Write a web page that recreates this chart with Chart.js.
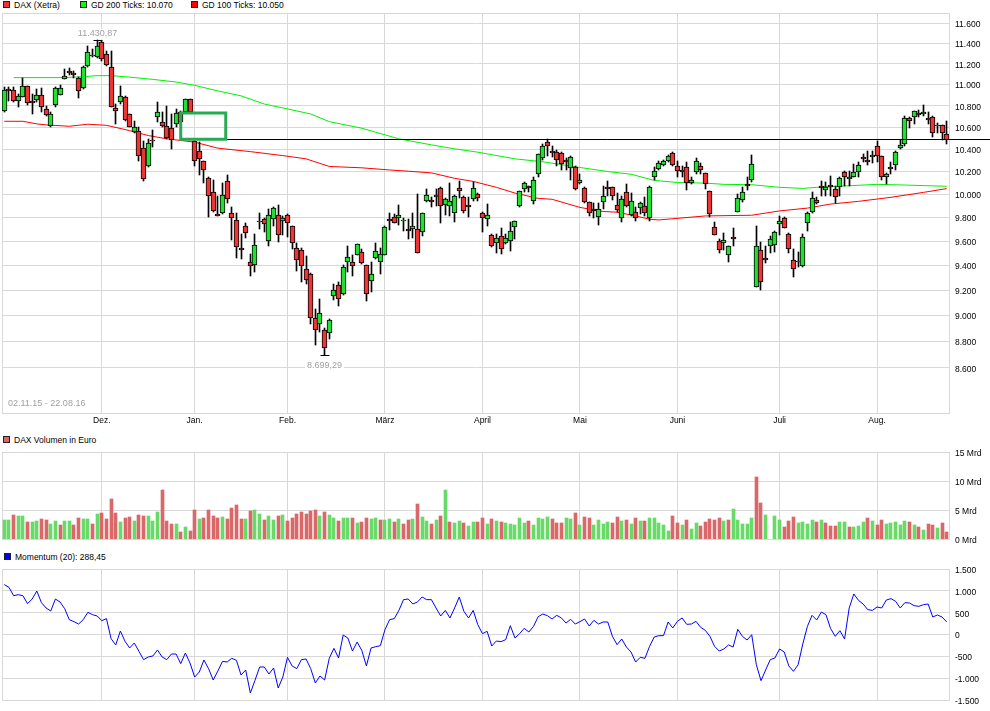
<!DOCTYPE html>
<html>
<head>
<meta charset="utf-8">
<title>DAX (Xetra)</title>
<script src="https://cdn.jsdelivr.net/npm/chart.js@4/dist/chart.umd.min.js"></script>
<style>
  html, body { margin: 0; padding: 0; background: #fff; }
  body { position: relative; width: 990px; height: 711px; overflow: hidden; font: 8.5px "Liberation Sans", Arial, sans-serif; color: #000; }
  canvas { position: absolute; left: 0; }
  #main { top: 0; }
  #volume { top: 440px; }
  #momentum { top: 557px; }
  .legend { position: absolute; white-space: nowrap; line-height: 10px; }
  .legend i { position: absolute; left: -11px; top: 1px; width: 5px; height: 5px; border: 1px solid #222; }
</style>
</head>
<body>
<div class="legend" style="left:14px;top:0"><i style="background:#ee3333"></i>DAX (Xetra)</div>
<div class="legend" style="left:91px;top:0"><i style="background:#00ff00"></i>GD 200 Ticks: 10.070</div>
<div class="legend" style="left:202px;top:0"><i style="background:#ff0000"></i>GD 100 Ticks: 10.050</div>
<div class="legend" style="left:14px;top:435px"><i style="background:#d96767"></i>DAX Volumen in Euro</div>
<div class="legend" style="left:15px;top:552px"><i style="background:#0000ff"></i>Momentum (20): 288,45</div>
<canvas id="main" width="990" height="432"></canvas>
<canvas id="volume" width="990" height="111"></canvas>
<canvas id="momentum" width="990" height="155"></canvas>
<script>
var monthIndex = [21, 41, 61, 82, 103, 124, 145, 167, 188];
var monthNames = ['Dez.', 'Jan.', 'Feb.', 'März', 'April', 'Mai', 'Juni', 'Juli', 'Aug.'];

var opens = [10754,10958,10950,10847,10878,10987,10847,10853,10897,10766,10609,10806,10903,11053,11128,11109,11067,10963,11181,11289,
  11266,11417,11301,11171,10776,10832,10878,10720,10555,10569,10409,10245,10486,10692,10646,10609,10596,10631,10738,10738,
  10862,10478,10382,10290,10145,10017,9831,9835,10113,9843,9780,9547,9725,9431,9402,9775,9788,9600,9785,9823,
  9775,9823,9725,9541,9526,9376,9331,8982,8938,8889,8862,9158,9242,9169,9431,9426,9484,9511,9402,9272,
  9459,9426,9484,9788,9809,9800,9767,9705,9700,9700,9675,9944,9952,9974,10052,9910,9896,9835,10052,9974,
  9904,9957,10000,9835,9792,9650,9584,9647,9584,9600,9717,9901,10043,10070,9939,10174,10318,10464,10386,10378,
  10364,10301,10227,10236,10095,10052,9930,9871,9809,9930,10066,10061,9904,9800,10017,9820,9849,9878,9896,9797,
  10148,10221,10260,10293,10364,10245,10213,10236,10098,10197,10245,10183,10026,9719,9600,9588,9484,9638,9849,9948,
  10089,10122,9230,9526,9463,9561,9567,9742,9800,9658,9448,9440,9393,9750,9849,9948,10074,10035,10080,10043,
  10061,10197,10130,10156,10200,10332,10305,10327,10427,10336,10156,10241,10257,10409,10445,10683,10692,10734,10720,10683,
  10698,10623,10618,10536];
var highs = [10981,10981,10981,10909,11060,10987,10909,10956,10963,10800,10738,10981,10993,11152,11162,11130,11076,11177,11373,11341,
  11431,11425,11327,11327,10816,10987,10894,10723,10660,10600,10478,10496,10575,10832,10738,10795,10723,10769,10754,10862,
  10862,10478,10464,10290,10148,10124,9988,10098,10168,9887,9835,9661,9758,9497,9661,9843,9800,9872,9887,9907,
  9814,9829,9730,9586,9542,9477,9337,9049,9131,8900,8972,9253,9267,9404,9564,9483,9578,9536,9407,9426,
  9586,9542,9730,9843,9829,9907,9800,9786,9837,10003,9843,10046,9974,10046,10061,9965,10098,9994,10116,9983,
  9974,10110,10011,9849,9916,9661,9661,9713,9661,9763,9772,10031,10104,10075,10156,10360,10448,10494,10427,10396,
  10378,10318,10336,10251,10176,10061,9930,9924,9924,10070,10113,10066,10011,9983,10089,10011,9887,9930,9974,10075,
  10236,10296,10305,10351,10378,10296,10251,10282,10148,10320,10273,10191,10029,9763,9619,9669,9564,9708,10003,10061,
  10156,10351,9730,9597,9564,9642,9688,9814,9809,9667,9536,9509,9661,9849,10017,9974,10113,10104,10162,10075,
  10148,10205,10205,10266,10282,10357,10382,10382,10470,10342,10191,10282,10387,10487,10702,10692,10754,10763,10806,10738,
  10702,10637,10621,10654];
var lows = [10744,10847,10832,10785,10878,10806,10723,10832,10744,10707,10603,10785,10900,11050,11089,11067,10869,10956,11171,11266,
  11259,11226,11177,10791,10631,10816,10660,10600,10548,10296,10118,10236,10418,10651,10600,10494,10403,10600,10651,10738,
  10738,10250,10170,10095,9805,9849,9814,9829,9924,9613,9462,9454,9628,9314,9348,9703,9680,9564,9730,9597,
  9655,9638,9536,9354,9264,9247,8933,8774,8874,8699.29,8818,9125,9074,9164,9348,9314,9483,9412,9118,9189,
  9454,9329,9483,9694,9752,9736,9688,9619,9625,9501,9647,9936,9890,9896,9755,9820,9814,9763,9965,9843,
  9805,9944,9939,9680,9730,9553,9505,9491,9578,9522,9619,9892,10022,10017,9918,10153,10305,10342,10327,10251,
  10214,10214,10127,10037,10089,9924,9814,9800,9736,9872,9988,9950,9849,9763,9887,9814,9769,9829,9814,9775,
  10127,10214,10251,10287,10245,10156,10148,10037,10087,10176,10176,10046,9809,9652,9503,9531,9426,9564,9849,9930,
  10040,10104,9225,9203,9421,9503,9514,9655,9708,9503,9306,9385,9390,9688,9837,9916,9988,9988,9983,9924,
  9988,10075,10075,10148,10148,10282,10257,10273,10287,10127,10089,10176,10214,10403,10433,10591,10631,10692,10707,10631,
  10515,10548,10487,10445];
var closes = [10950,10942,10847,10888,10987,10822,10828,10903,10785,10711,10720,10970,10966,11086,11112,11093,10935,11171,11318,11273,
  11377,11252,11187,10791,10754,10888,10669,10600,10600,10342,10133,10455,10470,10738,10609,10500,10487,10730,10651,10862,
  10738,10290,10315,10218,9983,9852,9815,9991,9962,9800,9550,9526,9667,9393,9572,9759,9742,9823,9883,9650,
  9796,9758,9584,9443,9393,9284,8985,8885,9020,8754,8966,9200,9131,9385,9467,9393,9575,9418,9169,9334,
  9517,9498,9717,9772,9758,9826,9783,9689,9725,9501,9835,9991,9936,9991,9896,9957,9944,9988,10026,9852,
  9887,10052,9965,9797,9826,9564,9625,9534,9625,9689,9767,10026,10095,10052,10122,10355,10427,10433,10370,10300,
  10264,10285,10327,10043,10122,9930,9835,9855,9870,9983,10050,9983,9861,9959,9896,9941,9800,9922,9843,10061,
  10209,10273,10291,10336,10257,10205,10197,10098,10122,10291,10218,10092,9832,9655,9526,9608,9559,9622,9965,10017,
  10073,10264,9559,9267,9447,9617,9680,9775,9708,9534,9376,9426,9633,9835,9965,9927,10058,10066,10064,9979,
  10145,10156,10148,10197,10255,10316,10282,10345,10336,10148,10174,10225,10373,10436,10689,10661,10748,10718,10739,10667,
  10545,10607,10545,10487];

var ma200Index = [2,13,17,20,23,27,32,37,41,46,51,56,61,66,70,77,85,92,97,102,110,116,124,130,135,140,145,151,155,161,167,172,175,188,194,203];
var ma200Values = [11067,11067,11076,11086,11086,11072,11050,11025,10993,10940,10893,10816,10770,10723,10652,10591,10494,10439,10403,10373,10313,10287,10236,10200,10176,10122,10103,10098,10087,10084,10061,10052,10061,10087,10081,10070];
var ma100Index = [0,4,7,9,14,18,22,27,31,35,41,46,53,60,65,70,77,83,87,92,97,101,106,110,115,118,124,129,132,136,139,141,146,151,161,167,173,178,184,191,198,203];
var ma100Values = [10655,10655,10631,10622,10609,10628,10618,10569,10524,10494,10464,10409,10378,10342,10313,10245,10233,10214,10203,10188,10140,10113,10061,10011,9965,9957,9887,9852,9846,9814,9786,9780,9797,9814,9820,9857,9881,9916,9939,9974,10017,10050];

// volume in Mrd, null where the picture has no bar
var volumes = [3.33,3.33,4.20,4.02,4.02,2.99,2.99,3.16,3.51,3.33,2.64,3.16,2.47,3.16,3.16,2.47,3.68,3.51,3.51,2.64,
  4.37,4.54,3.51,6.95,4.54,2.99,3.68,3.85,3.16,4.20,4.02,4.02,3.16,4.71,8.51,3.16,2.64,2.64,1.26,2.13,
  1.44,5.06,3.51,3.68,5.06,4.02,3.68,3.85,3.51,5.40,5.92,3.51,3.51,4.89,5.06,4.37,3.33,4.02,3.33,4.02,
  4.20,3.16,3.68,4.37,4.71,4.37,4.89,5.06,4.02,4.71,4.20,3.68,3.16,3.68,3.68,3.68,2.82,2.99,3.68,3.51,
  3.68,3.33,3.33,3.51,2.99,3.51,2.64,3.33,3.51,6.09,3.85,3.16,2.64,3.33,4.02,8.51,2.99,2.82,3.16,2.82,
  2.30,2.99,2.99,3.68,2.64,3.51,3.16,2.99,2.82,2.64,2.47,3.68,2.82,3.16,2.47,3.68,3.51,3.85,3.51,2.82,
  2.82,3.68,3.51,4.54,2.47,3.85,3.68,2.47,3.33,2.64,2.99,2.82,3.85,3.16,3.33,2.64,3.68,3.16,3.16,3.68,
  3.68,2.82,2.47,1.44,4.02,2.82,2.47,3.33,1.78,2.82,2.30,2.99,3.51,3.33,3.68,3.16,3.33,5.23,3.33,2.64,
  2.64,3.68,10.75,6.26,4.20,null,4.02,3.33,2.13,3.16,3.85,2.82,2.99,2.64,3.33,2.99,3.33,2.82,2.30,2.30,
  2.99,2.99,2.13,2.13,2.30,2.99,3.68,3.16,2.47,3.33,2.64,2.82,2.99,2.47,3.16,2.99,2.47,2.13,1.61,2.64,
  2.47,1.95,2.82,1.26];
var volumeDirs = ('GGRGGRGGRRGGRGGRRGGR' + 'GRRRRGRRGRRGGGRRRGRG' + 'RRGRRRRGRRRRGRGGRGGR' + 'GRRRRRRRGRGGRGGRGRRG' +
  'GRGGRGRRGRGGRGRGRGGR' + 'GGRRGRGRGGGGGRGGGGRR' + 'RGGRGRRGGGGRRGRGRGRG' + 'GGGGRRGRGGRRRRRGRGGG' +
  'GGRRGGGGRRRGGGGRGRRR' + 'GGRGGGRGRRGGGGGRGRGR' + 'RGRR').split('');

var momentum = [1141,1080,889,912,889,706,813,996,729,607,538,813,744,592,340,294,240,340,508,454,
  424,317,363,-95,-240,80,-156,-309,-195,-386,-576,-515,-492,-355,-515,-576,-447,-447,-668,-424,
  -653,-973,-859,-584,-782,-1042,-836,-615,-630,-546,-592,-928,-813,-1340,-1050,-744,-744,-905,-767,-1225,
  -973,-523,-721,-782,-576,-561,-782,-1111,-950,-1042,-546,-317,-538,-11,-80,-378,-172,-363,-721,-309,
  -279,-256,111,340,363,553,798,813,699,744,859,798,798,607,424,553,378,607,859,531,
  378,553,225,19,73,-263,-149,-164,-118,202,-80,19,141,57,187,408,469,431,355,439,
  378,263,347,240,294,355,195,324,240,286,286,-42,-233,-103,-286,-401,-630,-523,-546,-271,
  -57,-27,-27,286,149,302,378,233,240,302,164,95,-42,-271,-378,-332,-240,-286,118,-42,
  -126,-4,-691,-1057,-813,-576,-538,-332,-401,-721,-844,-691,-218,187,439,332,515,454,134,-42,
  88,-103,607,928,782,699,569,553,630,607,790,821,760,607,729,721,660,645,683,699,
  401,447,401,288.45];

var priceTicks = [11600,11400,11200,11000,10800,10600,10400,10200,10000,9800,9600,9400,9200,9000,8800,8600];
var priceMin = 8270;
var priceMax = 11706;
var volumeTicks = [0, 5, 10, 15];
var momentumTicks = [-1500, -1000, -500, 0, 500, 1000, 1500];

// the green box and the black level somebody drew on the chart
var boxFrom = 38;
var boxTo = 47.7;
var boxTop = 10732;
var level = 10490;

var extremeIndex = [20, 69];
var extremeValues = [11430.87, 8699.29];
var extremeLabels = ['11.430,87', '8.699,29'];
var dateRange = '02.11.15 - 22.08.16';

var categories = opens.map(function() { return ''; });
monthIndex.forEach(function(idx, k) { categories[idx] = monthNames[k]; });

var grey = '#d8d8d8';
var font = { family: '"Liberation Sans", Arial, sans-serif', size: 8.5 };

function sparse(index, values) {
  var out = categories.map(function() { return null; });
  index.forEach(function(idx, k) { out[idx] = values[k]; });
  return out;
}

function germanNumber(value) {
  return String(value).replace(/\B(?=(\d{3})+(?!\d))/g, '.');
}

// bars and frame land on whole pixels, the original is not antialiased
var crispBars = {
  id: 'crispBars',
  beforeDatasetsDraw: function(chart) {
    chart.data.datasets.forEach(function(ds, i) {
      if (ds.type === 'line') return;
      chart.getDatasetMeta(i).data.forEach(function(bar) {
        bar.x = Math.floor(bar.x) + 0.5;
        bar.y = Math.round(bar.y);
        bar.base = Math.round(bar.base);
      });
    });
  }
};

var frame = {
  id: 'frame',
  beforeDatasetsDraw: function(chart) {
    var a = chart.chartArea, ctx = chart.ctx;
    ctx.save();
    ctx.strokeStyle = grey;
    ctx.lineWidth = 1;
    ctx.strokeRect(a.left + 0.5, a.top + 0.5, a.right - a.left, a.bottom - a.top);
    ctx.restore();
  }
};

var drawings = {
  id: 'drawings',
  afterDatasetsDraw: function(chart) {
    var x = chart.scales.x, y = chart.scales.y, ctx = chart.ctx;
    ctx.save();

    // level line runs over the axis labels up to the picture edge
    var levelY = Math.round(y.getPixelForValue(level)) + 0.5;
    ctx.strokeStyle = '#000';
    ctx.lineWidth = 1;
    ctx.beginPath();
    ctx.moveTo(x.getPixelForValue(boxTo), levelY);
    ctx.lineTo(chart.width, levelY);
    ctx.stroke();

    ctx.strokeStyle = '#27ab52';
    ctx.lineWidth = 3;
    ctx.strokeRect(x.getPixelForValue(boxFrom), y.getPixelForValue(boxTop),
      x.getPixelForValue(boxTo) - x.getPixelForValue(boxFrom),
      y.getPixelForValue(level) - y.getPixelForValue(boxTop));

    // high and low markers with their grey values
    ctx.font = '9px "Liberation Sans", Arial, sans-serif';
    ctx.textAlign = 'center';
    ctx.textBaseline = 'middle';
    ctx.lineWidth = 1;
    extremeIndex.forEach(function(idx, k) {
      var px = Math.floor(x.getPixelForValue(idx)) + 0.5;
      var py = Math.round(y.getPixelForValue(extremeValues[k])) + 0.5;
      var above = k === 0;
      var ty = above ? py - 6.5 : py + 10.5;
      ctx.strokeStyle = '#000';
      ctx.beginPath();
      ctx.moveTo(px - 4, py);
      ctx.lineTo(px + 5, py);
      ctx.stroke();
      var w = ctx.measureText(extremeLabels[k]).width;
      ctx.fillStyle = '#fff';
      ctx.fillRect(px - w / 2 - 2, ty - 5, w + 4, 10);
      ctx.fillStyle = '#a0a0a0';
      ctx.fillText(extremeLabels[k], px, ty);
    });

    ctx.textAlign = 'left';
    ctx.fillStyle = '#a0a0a0';
    ctx.fillText(dateRange, 8, chart.chartArea.bottom - 9);
    ctx.restore();
  }
};

function yScale(ticks, extra) {
  var scale = {
    position: 'right',
    afterBuildTicks: function(axis) {
      axis.ticks = ticks.map(function(v) { return { value: v }; });
    },
    afterFit: function(axis) { axis.width = 41; },
    grid: { color: grey, drawTicks: false, tickLength: 0 },
    border: { display: false },
    ticks: {
      autoSkip: false,
      padding: 6,
      labelOffset: 1.5,
      color: '#000',
      font: font,
      callback: function(v) { return germanNumber(v); }
    }
  };
  return Object.assign(scale, extra);
}

function xScale(showLabels) {
  return {
    offset: true,
    afterBuildTicks: function(axis) {
      axis.ticks = monthIndex.map(function(idx) { return { value: idx }; });
    },
    afterFit: function(axis) { axis.height = showLabels ? 19 : 0; },
    grid: { color: grey, offset: false, drawTicks: false, tickLength: 0 },
    border: { display: false },
    ticks: { display: showLabels, autoSkip: false, maxRotation: 0, padding: 3, color: '#000', font: font }
  };
}

function baseOptions(padding, y, showLabels) {
  return {
    responsive: false,
    animation: false,
    events: [],
    layout: { padding: padding },
    plugins: { legend: { display: false }, title: { display: false }, tooltip: { enabled: false } },
    scales: { x: xScale(showLabels), y: y }
  };
}

var bodyColors = opens.map(function(o, i) { return closes[i] >= o ? '#22e033' : '#ee3535'; });
var wicks = lows.map(function(l, i) { return [l, highs[i]]; });
var bodies = opens.map(function(o, i) { return [o, closes[i]]; });

new Chart(document.getElementById('main'), {
  type: 'bar',
  data: {
    labels: categories,
    datasets: [
      { type: 'line', data: sparse(ma200Index, ma200Values), borderColor: '#00f200', borderWidth: 1, pointRadius: 0, spanGaps: true, order: 3 },
      { type: 'line', data: sparse(ma100Index, ma100Values), borderColor: '#ff0000', borderWidth: 1, pointRadius: 0, spanGaps: true, order: 3 },
      { data: wicks, backgroundColor: '#000', barThickness: 1, grouped: false, order: 2 },
      { data: bodies, backgroundColor: bodyColors, borderColor: '#000', borderWidth: 1, borderSkipped: false, barThickness: 5, grouped: false, order: 1 }
    ]
  },
  options: baseOptions({ left: 2, top: 13, right: 0, bottom: 0 },
    yScale(priceTicks, { type: 'logarithmic', min: priceMin, max: priceMax }), true),
  plugins: [frame, crispBars, drawings]
});

new Chart(document.getElementById('volume'), {
  type: 'bar',
  data: {
    labels: categories,
    datasets: [{
      data: volumes,
      backgroundColor: volumeDirs.map(function(d) { return d === 'G' ? '#68da68' : '#da6868'; }),
      barThickness: 3
    }]
  },
  options: baseOptions({ left: 2, top: 12, right: 0, bottom: 12 },
    (function() {
      var s = yScale(volumeTicks, { min: 0, max: 15 });
      s.ticks.callback = function(v) { return v + ' Mrd'; };
      return s;
    })(), false),
  plugins: [frame, crispBars]
});

new Chart(document.getElementById('momentum'), {
  type: 'line',
  data: {
    labels: categories,
    datasets: [{ data: momentum, borderColor: '#0000ff', borderWidth: 1, pointRadius: 0, tension: 0 }]
  },
  options: baseOptions({ left: 2, top: 12, right: 0, bottom: 12 },
    yScale(momentumTicks, { min: -1500, max: 1500 }), false),
  plugins: [frame]
});
</script>
</body>
</html>
